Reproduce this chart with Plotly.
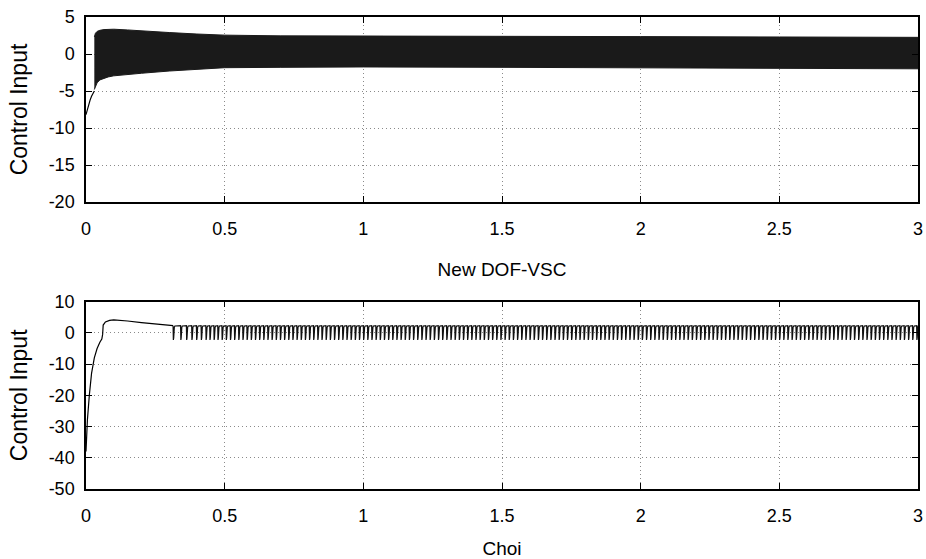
import plotly.graph_objects as go
from plotly.subplots import make_subplots

# ---------------- Top panel: New DOF-VSC ----------------
top_init_t = [0.0, 0.005, 0.010, 0.015, 0.020, 0.025, 0.030]
top_init_u = [-8.2, -7.4, -6.8, -6.2, -5.7, -5.3, -5.0]

top_env_t = [0.030, 0.034, 0.040, 0.050, 0.065, 0.080, 0.100, 0.150, 0.200,
             0.300, 0.400, 0.500, 0.700, 1.000, 1.500, 2.000, 2.500, 3.000]
top_env_upper = [2.3, 2.8, 3.05, 3.2, 3.3, 3.35, 3.35, 3.25, 3.1,
                 2.9, 2.7, 2.55, 2.45, 2.45, 2.4, 2.35, 2.3, 2.25]
top_env_lower = [-4.8, -4.3, -3.9, -3.5, -3.25, -3.1, -2.95, -2.75, -2.6,
                 -2.3, -2.05, -1.85, -1.8, -1.75, -1.8, -1.85, -1.95, -2.0]

# ---------------- Bottom panel: Choi ----------------
bot_init_t = [0.0, 0.005, 0.012, 0.020, 0.030, 0.040, 0.050, 0.057, 0.060,
              0.062, 0.070, 0.085, 0.100, 0.120, 0.150, 0.200, 0.250, 0.300, 0.314]
bot_init_u = [-38, -28, -20, -13, -8, -5, -3, -2, -0.5,
              2.5, 3.5, 4.0, 4.15, 4.1, 3.8, 3.3, 2.8, 2.4, 2.3]

chatter_times = [
    0.314, 0.341, 0.362, 0.381, 0.398, 0.415, 0.432, 0.446, 0.461, 0.475, 0.490,
    0.505, 0.520, 0.535, 0.550, 0.565, 0.580, 0.595, 0.610, 0.625, 0.640,
    0.655, 0.670, 0.685, 0.700, 0.715, 0.730, 0.745, 0.760, 0.775, 0.790,
    0.805, 0.820, 0.835, 0.850, 0.865, 0.880, 0.895, 0.910, 0.925, 0.940,
    0.955, 0.970, 0.985, 1.000, 1.015, 1.030, 1.045, 1.060, 1.075, 1.090,
    1.105, 1.120, 1.135, 1.150, 1.165, 1.180, 1.195, 1.210, 1.225, 1.240,
    1.255, 1.270, 1.285, 1.300, 1.315, 1.330, 1.345, 1.360, 1.375, 1.390,
    1.405, 1.420, 1.435, 1.450, 1.465, 1.480, 1.495, 1.510, 1.525, 1.540,
    1.555, 1.570, 1.585, 1.600, 1.615, 1.630, 1.645, 1.660, 1.675, 1.690,
    1.705, 1.720, 1.735, 1.750, 1.765, 1.780, 1.795, 1.810, 1.825, 1.840,
    1.855, 1.870, 1.885, 1.900, 1.915, 1.930, 1.945, 1.960, 1.975, 1.990,
    2.005, 2.020, 2.035, 2.050, 2.065, 2.080, 2.095, 2.110, 2.125, 2.140,
    2.155, 2.170, 2.185, 2.200, 2.215, 2.230, 2.245, 2.260, 2.275, 2.290,
    2.305, 2.320, 2.335, 2.350, 2.365, 2.380, 2.395, 2.410, 2.425, 2.440,
    2.455, 2.470, 2.485, 2.500, 2.515, 2.530, 2.545, 2.560, 2.575, 2.590,
    2.605, 2.620, 2.635, 2.650, 2.665, 2.680, 2.695, 2.710, 2.725, 2.740,
    2.755, 2.770, 2.785, 2.800, 2.815, 2.830, 2.845, 2.860, 2.875, 2.890,
    2.905, 2.920, 2.935, 2.950, 2.965, 2.980, 2.995,
]
chatter_high = 2.3
# shape of one chattering spike: (time offset after switch, level)
spike_offsets = [0.0, 0.0010, 0.0022, 0.0045, 0.0065]
spike_levels = [2.3, -2.3, -1.6, 1.8, 2.2]

x_ticks = [0, 0.5, 1, 1.5, 2, 2.5, 3]
x_tick_labels = ["0", "0.5", "1", "1.5", "2", "2.5", "3"]
top_y_ticks = [5, 0, -5, -10, -15, -20]
top_y_labels = ["5", "0", "-5", "-10", "-15", "-20"]
bot_y_ticks = [10, 0, -10, -20, -30, -40, -50]
bot_y_labels = ["10", "0", "-10", "-20", "-30", "-40", "-50"]

# build the chattering polyline from the spike times and spike shape
chat_x, chat_y = [], []
for ti in chatter_times:
    for dt, lv in zip(spike_offsets, spike_levels):
        chat_x.append(ti + dt)
        chat_y.append(lv)
chat_x.append(3.0)
chat_y.append(chatter_high)

fig = make_subplots(rows=2, cols=1, shared_xaxes=False, vertical_spacing=0.0)

# top
fig.add_trace(go.Scatter(x=top_init_t, y=top_init_u, mode="lines",
                         line=dict(color="black", width=1.2), showlegend=False), row=1, col=1)
fig.add_trace(go.Scatter(x=top_env_t, y=top_env_lower, mode="lines",
                         line=dict(color="#1a1a1a", width=1), showlegend=False), row=1, col=1)
fig.add_trace(go.Scatter(x=top_env_t, y=top_env_upper, mode="lines", fill="tonexty",
                         fillcolor="#1a1a1a", line=dict(color="#1a1a1a", width=1),
                         showlegend=False), row=1, col=1)

# bottom
fig.add_trace(go.Scatter(x=bot_init_t, y=bot_init_u, mode="lines",
                         line=dict(color="black", width=1.2), showlegend=False), row=2, col=1)
fig.add_trace(go.Scatter(x=chat_x, y=chat_y, mode="lines",
                         line=dict(color="#111111", width=1.2), showlegend=False), row=2, col=1)

FONT = "Liberation Sans, Arial, Helvetica, sans-serif"
axis_common = dict(showline=True, linecolor="black", linewidth=1.5, mirror="ticks",
                   ticks="inside", ticklen=6, tickcolor="black", tickwidth=1,
                   showgrid=True, gridcolor="#8a8a8a", griddash="1px,3px", gridwidth=1,
                   zeroline=False, automargin=False, ticklabeloverflow="allow",
                   tickfont=dict(size=18, color="black", family=FONT))

fig.update_xaxes(range=[0, 3], tickvals=x_ticks, ticktext=x_tick_labels,
                 ticklabelstandoff=10, **axis_common)
fig.update_yaxes(ticklabelstandoff=6, **axis_common)

fig.update_layout(
    width=926, height=559,
    margin=dict(l=86, r=8, t=17, b=70, autoexpand=False),
    paper_bgcolor="white", plot_bgcolor="white",
    font=dict(family=FONT, color="black", size=18),
    xaxis=dict(domain=[0, 1], title=dict(text="New DOF-VSC", standoff=24,
                                         font=dict(size=19, family=FONT))),
    yaxis=dict(domain=[0.608, 1.0], range=[-20, 5], tickvals=top_y_ticks,
               ticktext=top_y_labels,
               title=dict(text="Control Input", standoff=15, font=dict(size=23, family=FONT))),
    xaxis2=dict(domain=[0, 1], title=dict(text="Choi", standoff=17,
                                          font=dict(size=19, family=FONT))),
    yaxis2=dict(domain=[0.0, 0.397], range=[-50, 10], tickvals=bot_y_ticks,
                ticktext=bot_y_labels,
                title=dict(text="Control Input", standoff=15, font=dict(size=23, family=FONT))),
)

fig.write_html("out.html", config={"displayModeBar": False},
               post_script="document.body.style.margin='0';")
